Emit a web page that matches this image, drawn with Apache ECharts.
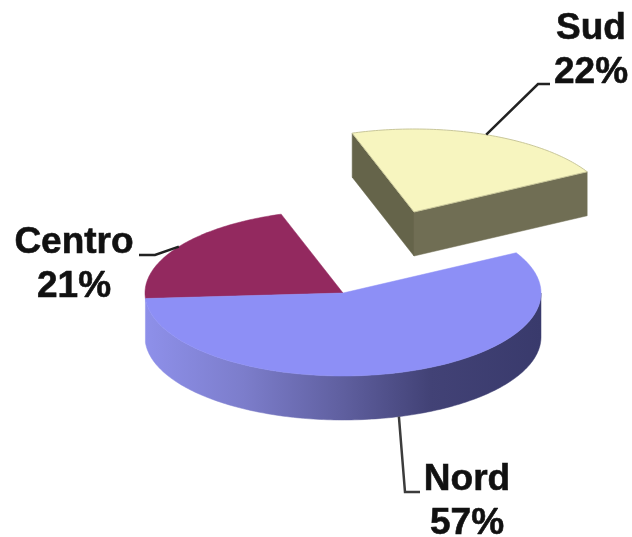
<!DOCTYPE html>
<html>
<head>
<meta charset="utf-8">
<style>
html,body{margin:0;padding:0;background:#fff}
#c{width:632px;height:537px;filter:blur(0.5px)}
</style>
<script src="https://cdn.jsdelivr.net/npm/echarts@6/dist/echarts.min.js"></script>
</head>
<body>
<div id="c"></div>
<script>
// Data, clockwise from the left edge of the pie
var categories = ['Centro', 'Sud', 'Nord'];
var values = [21, 22, 57];

// Layout of the tilted pie
var START_ANGLE = 183.8, RX = 198, RY = 83, DEPTH = 44;
var CENTERS = { Centro: [343, 293], Sud: [414, 212], Nord: [343, 293] };
var TOPS = { Centro: '#93295F', Sud: '#F7F5BF', Nord: '#8D8FF6' };
var LABELS = {
  Centro: { x: 74, y: 265, knee: [155, 255], end: [139, 255] },
  Sud: { x: 591, y: 51, knee: [538, 84], end: [550, 84] },
  Nord: { x: 467, y: 502, knee: [405, 492], end: [420, 492] }
};

var chart = echarts.init(document.getElementById('c'), null, { renderer: 'canvas' });

function pt(c, a, dy) {
  var r = a * Math.PI / 180;
  return [c[0] + RX * Math.cos(r), c[1] - RY * Math.sin(r) + (dy || 0)];
}
function arc(c, a0, a1, dy) {
  var n = Math.max(2, Math.ceil(Math.abs(a1 - a0))), out = [];
  for (var i = 0; i <= n; i++) out.push(pt(c, a0 + (a1 - a0) * i / n, dy));
  return out;
}
function poly(points, fill, stroke, z) {
  return { type: 'polygon', z2: z, shape: { points: points },
    style: { fill: fill, stroke: stroke || fill, lineWidth: stroke ? 1 : 0.5 } };
}

var total = values.reduce(function (a, b) { return a + b; }, 0);
var spans = {}, cursor = START_ANGLE;
categories.forEach(function (name, i) {
  var s = values[i] / total * 360;
  spans[name] = [cursor, cursor - s];
  cursor -= s;
});

function renderItem(params, api) {
  var name = categories[params.dataIndex], value = api.value(0);
  var c = CENTERS[name], a0 = spans[name][0], a1 = spans[name][1], mid = (a0 + a1) / 2;
  var kids = [], rim;

  if (name === 'Sud') {
    var p0 = pt(c, a0), p1 = pt(c, a1);
    kids.push(poly([c, p0, [p0[0], p0[1] + DEPTH], [c[0], c[1] + DEPTH]], '#65644A', null, 1));
    kids.push(poly([c, p1, [p1[0], p1[1] + DEPTH], [c[0], c[1] + DEPTH]], '#706E54', null, 1));
    rim = pt(c, mid);
  } else if (name === 'Nord') {
    var upper = arc(c, 0, a1), lower = arc(c, a1, 0, DEPTH);
    kids.push(poly(upper.concat(lower), new echarts.graphic.LinearGradient(145, 0, 541, 0, [
      { offset: 0, color: '#8E90EA' },
      { offset: 0.25, color: '#7C7DCB' },
      { offset: 0.5, color: '#5F5F9F' },
      { offset: 0.72, color: '#424276' },
      { offset: 1, color: '#393A6C' }
    ], true), null, 1));
    rim = pt(c, mid, DEPTH);
  } else {
    rim = pt(c, mid);
  }

  kids.push(poly([c].concat(arc(c, a0, a1)), TOPS[name],
    name === 'Sud' ? '#C9C79A' : null, 2));

  var lab = LABELS[name];
  kids.push({ type: 'polyline', z2: 3, shape: { points: [rim, lab.knee, lab.end] },
    style: { fill: null, stroke: name === 'Nord' ? '#3c3c3c' : '#222', lineWidth: 2.5 } });
  kids.push({ type: 'text', z2: 4, x: lab.x, y: lab.y, style: {
    text: name + '\n' + value + '%', fill: '#111', align: 'center', verticalAlign: 'middle',
    stroke: '#111', lineWidth: 0.6,
    font: 'bold 37px "Liberation Sans", Arial, sans-serif', lineHeight: 44
  } });
  return { type: 'group', children: kids };
}

// Draw order: detached slice first, then the back slice, then the front slice
chart.setOption({
  animation: false,
  backgroundColor: '#fff',
  series: [{
    type: 'custom',
    coordinateSystem: 'none',
    renderItem: renderItem,
    clip: false,
    data: categories.map(function (name, i) { return { name: name, value: [values[i]] }; })
  }]
});
</script>
</body>
</html>
